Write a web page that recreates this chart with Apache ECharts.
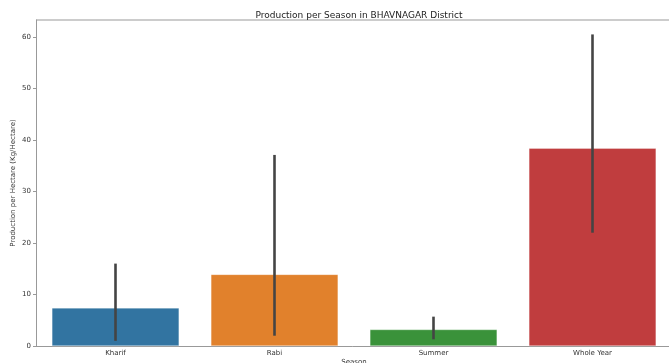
<!DOCTYPE html>
<html>
<head>
<meta charset="utf-8">
<script src="https://cdn.jsdelivr.net/npm/echarts@6/dist/echarts.min.js"></script>
<style>
  html, body { margin: 0; padding: 0; background: #fff; }
  #chart { width: 669px; height: 363px; }
</style>
</head>
<body>
<div id="chart"></div>
<script>
// Seasons and mean production per hectare, with confidence interval bounds
const seasons = ['Kharif', 'Rabi', 'Summer', 'Whole Year'];
const meanYield = [7.4, 13.9, 3.2, 38.4];
const ciLow = [1.0, 2.0, 1.3, 22.0];
const ciHigh = [16.0, 37.1, 5.7, 60.5];
const barColors = ['#3274a1', '#e1812c', '#3a923a', '#c03d3e'];
const yTicks = [0, 10, 20, 30, 40, 50, 60];

const chart = echarts.init(document.getElementById('chart'));
const font = 'DejaVu Sans, sans-serif';

chart.setOption({
  animation: false,
  title: {
    text: 'Production per Season in BHAVNAGAR District',
    left: 354, top: 6, textAlign: 'center',
    textStyle: { fontSize: 9, fontWeight: 'normal', color: '#222', fontFamily: font }
  },
  grid: { left: 36, top: 20, width: 636, height: 326, outerBoundsMode: 'none', containLabel: false },
  xAxis: {
    type: 'category',
    data: seasons,
    name: 'Season',
    nameLocation: 'middle',
    nameGap: 13,
    nameMoveOverlap: false,
    nameTextStyle: { fontSize: 7, color: '#333', fontFamily: font, verticalAlign: 'top' },
    axisLine: { lineStyle: { color: '#999', width: 1 } },
    axisTick: { alignWithLabel: true, length: 3, lineStyle: { color: '#999' } },
    axisLabel: { fontSize: 7, color: '#333', margin: 4, fontFamily: font }
  },
  yAxis: {
    type: 'value',
    min: 0, max: 63.3, interval: 10,
    name: 'Production per Hectare (Kg/Hectare)',
    nameLocation: 'middle',
    nameGap: 19,
    nameMoveOverlap: false,
    nameTextStyle: { fontSize: 7, color: '#333', fontFamily: font },
    axisLine: { show: true, lineStyle: { color: '#999', width: 1 } },
    axisTick: { show: true, length: 3, lineStyle: { color: '#999' } },
    axisLabel: {
      fontSize: 7, color: '#333', margin: 5, fontFamily: font,
      showMaxLabel: false,
      formatter: v => (yTicks.includes(v) ? String(v) : '')
    },
    splitLine: { show: false }
  },
  graphic: [{
    type: 'line',
    shape: { x1: 36, y1: 20, x2: 669, y2: 20 },
    style: { stroke: '#999', lineWidth: 1 },
    silent: true
  }],
  series: [
    {
      type: 'bar',
      barWidth: '80%',
      data: meanYield.map((v, i) => ({ value: v, itemStyle: { color: barColors[i] } })),
      itemStyle: { borderColor: 'rgba(255,255,255,0.6)', borderWidth: 0.5 }
    },
    {
      type: 'custom',
      data: seasons.map((s, i) => [i, ciLow[i], ciHigh[i]]),
      renderItem: (params, api) => {
        const lo = api.coord([api.value(0), api.value(1)]);
        const hi = api.coord([api.value(0), api.value(2)]);
        return {
          type: 'line',
          shape: { x1: lo[0], y1: lo[1], x2: hi[0], y2: hi[1] },
          style: { stroke: '#444', lineWidth: 2.6 }
        };
      },
      z: 5
    }
  ]
});
</script>
</body>
</html>
